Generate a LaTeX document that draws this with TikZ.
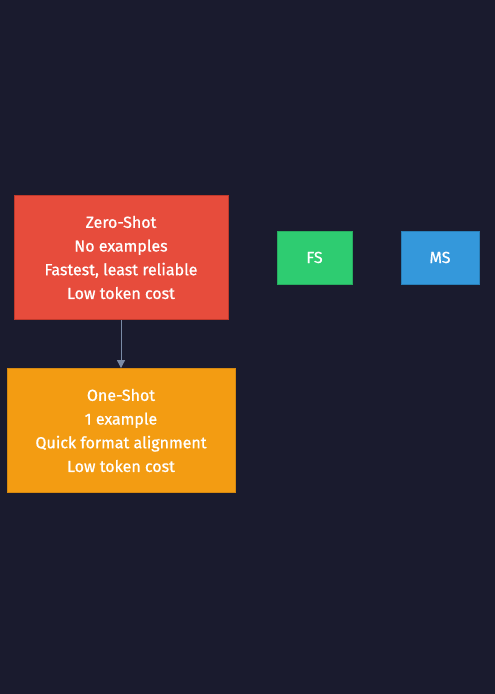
\documentclass[tikz,border=0pt]{standalone}
\usepackage{fontspec}
\setmainfont{Fira Sans}[UprightFeatures={FakeBold=0.8}]
\usetikzlibrary{arrows.meta}
\definecolor{bgnavy}{HTML}{1A1B2E}
\definecolor{zeroRed}{HTML}{E74C3C}
\definecolor{zeroEdge}{HTML}{C0392B}
\definecolor{oneOrange}{HTML}{F39C12}
\definecolor{oneEdge}{HTML}{D68910}
\definecolor{fsGreen}{HTML}{2ECC71}
\definecolor{fsEdge}{HTML}{27AE60}
\definecolor{msBlue}{HTML}{3498DB}
\definecolor{msEdge}{HTML}{2980B9}
\definecolor{linkGray}{HTML}{7A8BA6}

\begin{document}
\begin{tikzpicture}[x=1pt,y=-1pt,
	shotbox/.style={draw, line width=0.8pt, text=white, align=center, font=\fontsize{16}{23.7}\selectfont, inner sep=0pt},
	link/.style={draw=linkGray, line width=0.8pt, -{Triangle[width=8pt,length=8pt]}}]
	%background
	\fill[bgnavy] (0,0) rectangle (495,694);
	\useasboundingbox (0,0) rectangle (495,694);
	
	%Zero-Shot
	\node (zero) [shotbox, fill=zeroRed, draw=zeroEdge, minimum width=214pt, minimum height=124pt] at (121,257.5) {Zero-Shot\\No examples\\Fastest, least reliable\\Low token cost};
	%One-Shot
	\node (one) [shotbox, fill=oneOrange, draw=oneEdge, minimum width=228pt, minimum height=124pt] at (121,430.5) {One-Shot\\1 example\\Quick format alignment\\Low token cost};
	%Few-Shot
	\node (fs) [shotbox, fill=fsGreen, draw=fsEdge, minimum width=75pt, minimum height=53pt] at (314.5,257.5) {FS};
	%Many-Shot
	\node (ms) [shotbox, fill=msBlue, draw=msEdge, minimum width=78pt, minimum height=53pt] at (440,257.5) {MS};
	
	\draw [link] (zero) -- (one);
\end{tikzpicture}
\end{document}
